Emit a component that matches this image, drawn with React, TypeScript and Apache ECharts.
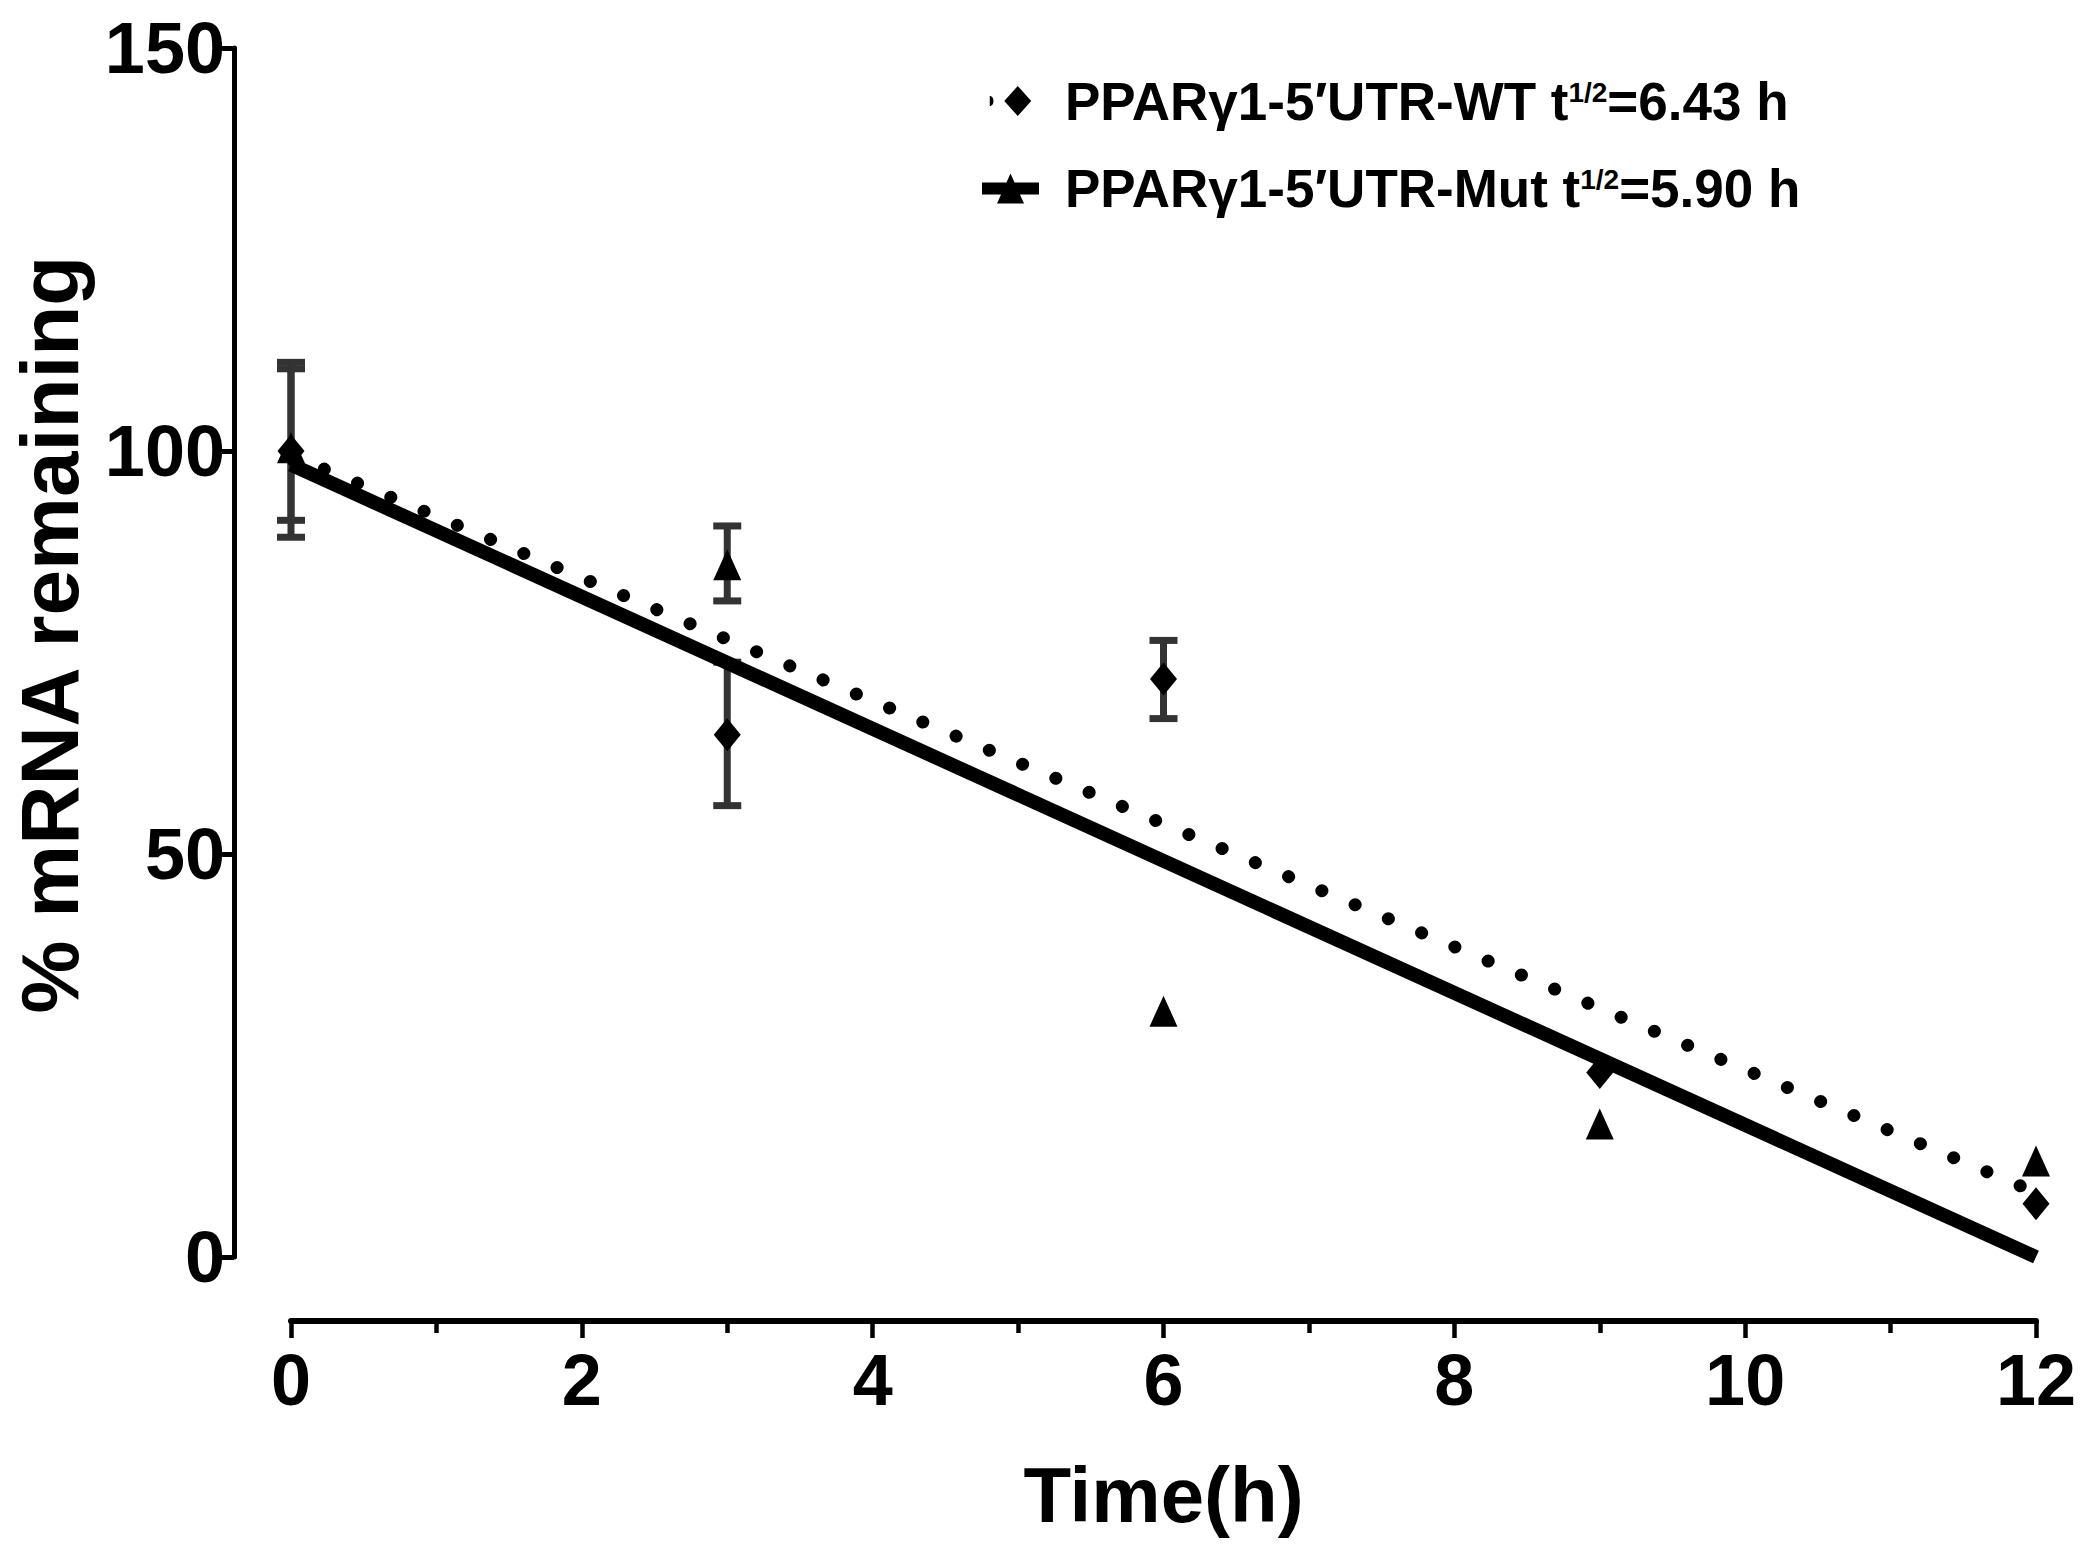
import React, { useEffect, useRef } from "react";
import * as echarts from "echarts";

// ---- data ----
const timePoints = [0, 3, 6, 9, 12];
const wtMean = [100, 64.8, 71.7, 22.9, 6.6];
const wtLow = [89.3, 56.0, 66.8, null, null];
const wtHigh = [111.0, 73.8, 76.5, null, null];
const mutMean = [100.4, 85.9, 30.5, 16.5, 11.9];
const mutLow = [91.4, 81.4, null, null, null];
const mutHigh = [110.2, 90.7, null, null, null];

// one-phase fits (start, end)
const fitX = [0, 12];
const wtFitY = [99.5, 8.0];
const mutFitY = [98.3, 0.0];

const xTicks = { min: 0, max: 12, interval: 2 };
const yTicks = { min: 0, max: 150, interval: 50 };

const wtName = "WT";
const mutName = "Mut";
const wtLegendParts = ["PPARγ1-5′UTR-WT t", "1/2", "=6.43 h"];
const mutLegendParts = ["PPARγ1-5′UTR-Mut t", "1/2", "=5.90 h"];
const xTitle = "Time(h)";
const yTitle = "% mRNA remaining";

const FONT = "'Liberation Sans', Arial, Helvetica, sans-serif";

function pairs(xs: number[], ys: number[]) {
  return xs.map((x, i) => [x, ys[i]]);
}
function errData(xs: number[], lo: (number | null)[], hi: (number | null)[]) {
  const out: number[][] = [];
  xs.forEach((x, i) => {
    if (lo[i] != null && hi[i] != null) out.push([x, lo[i] as number, hi[i] as number]);
  });
  return out;
}

const errColor = "#333333";
function renderErr(params: any, api: any) {
  const x = api.value(0);
  const pLo = api.coord([x, api.value(1)]);
  const pHi = api.coord([x, api.value(2)]);
  const hw = 14;
  const st = { stroke: errColor, lineWidth: 7 };
  return {
    type: "group",
    children: [
      { type: "line", shape: { x1: pLo[0], y1: pLo[1], x2: pHi[0], y2: pHi[1] }, style: st },
      { type: "line", shape: { x1: pHi[0] - hw, y1: pHi[1], x2: pHi[0] + hw, y2: pHi[1] }, style: st },
      { type: "line", shape: { x1: pLo[0] - hw, y1: pLo[1], x2: pLo[0] + hw, y2: pLo[1] }, style: st },
    ],
  };
}

const wtIcon = "path://M5,10 C10,10 10,20 5,20 Z M33,0 L46.5,15 L33,30 L19.5,15 Z";
const mutIcon = "path://M0,9 L57,9 L57,21 L0,21 Z M28.5,0 L42,30 L15,30 Z";

export default function App() {
  const ref = useRef<HTMLDivElement>(null);
  useEffect(() => {
    document.body.style.margin = "0";
    const chart = echarts.init(ref.current as HTMLDivElement, null, { renderer: "svg" });
    const axisText = { fontFamily: FONT, fontWeight: "bold" as const, color: "#000" };
    const option: any = {
      animation: false,
      backgroundColor: "#fff",
      grid: { left: 264, top: 48, width: 1772, height: 1209, containLabel: false },
      legend: {
        orient: "vertical",
        left: 977,
        top: 66,
        itemWidth: 57,
        itemHeight: 30,
        itemGap: 31,
        selectedMode: false,
        data: [
          { name: wtName, icon: wtIcon, itemStyle: { color: "#000" } },
          { name: mutName, icon: mutIcon, itemStyle: { color: "#000" } },
        ],
        formatter: (name: string) => {
          const p = name === wtName ? wtLegendParts : mutLegendParts;
          return `{m|${p[0]}}{s|${p[1]}}{m|${p[2]}}`;
        },
        textStyle: {
          padding: [0, 0, 0, 21],
          rich: {
            m: { fontFamily: FONT, fontWeight: "bold", fontSize: 53, lineHeight: 60, color: "#000" },
            s: {
              fontFamily: FONT,
              fontWeight: "bold",
              fontSize: 28,
              lineHeight: 28,
              verticalAlign: "top",
              padding: [7, 0, 0, 0],
              color: "#000",
            },
          },
        },
      },
      xAxis: {
        type: "value",
        min: xTicks.min,
        max: xTicks.max,
        interval: xTicks.interval,
        offset: 64,
        axisLine: { show: true, onZero: false, lineStyle: { color: "#000", width: 6 } },
        axisTick: { show: true, length: 17, lineStyle: { color: "#000", width: 4.5 } },
        minorTick: { show: true, splitNumber: 2, length: 12, lineStyle: { color: "#000", width: 4.5 } },
        splitLine: { show: false },
        axisLabel: { ...axisText, fontSize: 72, margin: 23 },
        name: xTitle,
        nameLocation: "middle",
        nameGap: 135,
        nameTextStyle: { ...axisText, fontSize: 78 },
      },
      yAxis: {
        type: "value",
        min: yTicks.min,
        max: yTicks.max,
        interval: yTicks.interval,
        offset: 57,
        axisLine: { show: true, onZero: false, lineStyle: { color: "#000", width: 5 } },
        axisTick: { show: true, length: 15, lineStyle: { color: "#000", width: 5 } },
        splitLine: { show: false },
        axisLabel: { ...axisText, fontSize: 72, margin: 9 },
        name: yTitle,
        nameLocation: "middle",
        nameRotate: 90,
        nameGap: 144,
        nameTextStyle: { ...axisText, fontSize: 82, padding: [0, 0, 0, 36] },
      },
      series: [
        {
          name: "wtErr",
          type: "custom",
          renderItem: renderErr,
          data: errData(timePoints, wtLow, wtHigh),
          z: 1,
          silent: true,
        },
        {
          name: "mutErr",
          type: "custom",
          renderItem: renderErr,
          data: errData(timePoints, mutLow, mutHigh),
          z: 1,
          silent: true,
        },
        {
          name: "wtFit",
          type: "line",
          data: pairs(fitX, wtFitY),
          showSymbol: false,
          symbol: "none",
          lineStyle: { color: "#000", width: 13, type: [0.1, 36], cap: "round" },
          z: 2,
        },
        {
          name: "mutFit",
          type: "line",
          data: pairs(fitX, mutFitY),
          showSymbol: false,
          symbol: "none",
          lineStyle: { color: "#000", width: 14, cap: "butt" },
          z: 2,
        },
        {
          name: wtName,
          type: "scatter",
          symbol: "diamond",
          symbolSize: [27, 33],
          itemStyle: { color: "#000", opacity: 1 },
          data: pairs(timePoints, wtMean),
          z: 3,
        },
        {
          name: mutName,
          type: "scatter",
          symbol: "triangle",
          symbolSize: [28, 31],
          itemStyle: { color: "#000", opacity: 1 },
          data: pairs(timePoints, mutMean),
          z: 3,
        },
      ],
    };
    chart.setOption(option);
    return () => chart.dispose();
  }, []);
  return <div ref={ref} style={{ width: 2087, height: 1553 }} />;
}
